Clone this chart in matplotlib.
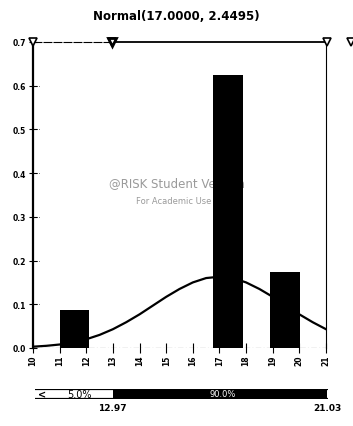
import matplotlib
matplotlib.use("Agg")
import matplotlib.pyplot as plt

# histogram bars (left edge, height)
bar_left = [11.0, 16.75, 18.9]
bar_height = [0.087, 0.625, 0.175]
bar_width = 1.12

# fitted normal curve, read at half steps
curve_x = [10, 10.5, 11, 11.5, 12, 12.5, 13, 13.5, 14, 14.5, 15, 15.5,
           16, 16.5, 17, 17.5, 18, 18.5, 19, 19.5, 20, 20.5, 21]
curve_y = [0.003, 0.005, 0.008, 0.013, 0.020, 0.030, 0.043, 0.059, 0.077,
           0.097, 0.117, 0.135, 0.150, 0.160, 0.163, 0.160, 0.150, 0.135,
           0.117, 0.097, 0.077, 0.059, 0.043]

xticks = list(range(10, 22))
yticks = [0.0, 0.1, 0.2, 0.3, 0.4, 0.5, 0.6, 0.7]

# delimiters on top line and the quantile bar below
lo_val, hi_val = 12.97, 21.03
lo_pct, mid_pct = "5.0%", "90.0%"

fig = plt.figure(figsize=(3.53, 4.27), dpi=100)
ax = fig.add_axes([33 / 353, 1 - 349 / 427, 293 / 353, 306 / 427])

ax.bar(bar_left, bar_height, width=bar_width, align="edge", color="black", zorder=2)
ax.plot(curve_x, curve_y, color="black", lw=1.6, zorder=3)

ax.set_xlim(10, 21)
ax.set_ylim(0, 0.7)

for s in ["top", "bottom"]:
    ax.spines[s].set_visible(False)
ax.spines["left"].set_linewidth(1.6)
ax.spines["right"].set_linewidth(0.8)
ax.spines["right"].set_linestyle((0, (4, 1)))

# bottom dash-dot baseline
ax.axhline(0.0, color="black", lw=0.8, ls=(0, (5, 2, 1, 2)), zorder=1)

# top delimiter line
ax.plot([10, lo_val], [0.7, 0.7], color="black", lw=0.8, ls=(0, (8, 1)), clip_on=False)
ax.plot([lo_val, hi_val], [0.7, 0.7], color="black", lw=1.3, clip_on=False)
ax.plot([10, lo_val, hi_val, 21.95], [0.7, 0.7, 0.7, 0.7], ls="none", marker="v",
        ms=6, mfc="white", mec="black", mew=1.2, clip_on=False, zorder=5)
ax.plot([lo_val], [0.7], ls="none", marker="v", ms=6, mfc="white", mec="black",
        mew=2.0, clip_on=False, zorder=6)

ax.set_xticks(xticks)
ax.set_xticklabels([str(v) for v in xticks], rotation=90, fontsize=5.5, fontweight="bold")
ax.set_yticks(yticks)
ax.set_yticklabels(["%.1f" % v for v in yticks], fontsize=5.5, fontweight="bold")
ax.tick_params(axis="x", direction="inout", length=7, width=0.8, pad=1)
ax.tick_params(axis="y", direction="inout", length=6, width=0.8, pad=2)

# faint dotted guide at each y tick
for v in yticks[1:-1]:
    ax.plot([10, 10.25], [v, v], color="black", lw=0.5, ls=":")

# watermark
ax.text(15.4, 0.379, "@RISK Student Version", ha="center", va="center",
        fontsize=8.5, color="#9a9a9a", zorder=1)
ax.text(15.7, 0.338, "For Academic Use Only", ha="center", va="center",
        fontsize=6, color="#9a9a9a", zorder=1)

fig.text(0.5, 1 - 17 / 427, "Normal(17.0000, 2.4495)", ha="center", va="center",
         fontsize=8.5, fontweight="bold")

# quantile bar under the chart
bx = fig.add_axes([35 / 353, 1 - 400 / 427, 293 / 353, 10 / 427])
bx.set_xlim(10.05, 21.05)
bx.set_ylim(0, 1)
bx.axis("off")
bx.plot([10.05, 21.05], [1, 1], color="black", lw=1.6)
bx.plot([10.05, 21.05], [0, 0], color="black", lw=1.6)
bx.barh(0.5, hi_val - lo_val, left=lo_val, height=1.0, color="black")
bx.text(10.15, 0.5, "<", ha="left", va="center", fontsize=7, fontweight="bold")
bx.text(11.7, 0.5, lo_pct, ha="center", va="center", fontsize=7)
bx.text(17.1, 0.5, mid_pct, ha="center", va="center", fontsize=6, color="white")
bx.text(lo_val, -0.4, "%.2f" % lo_val, ha="center", va="top", fontsize=6.5, fontweight="bold")
bx.text(hi_val, -0.4, "%.2f" % hi_val, ha="center", va="top", fontsize=6.5, fontweight="bold")

fig.savefig("out.png", dpi=100)
